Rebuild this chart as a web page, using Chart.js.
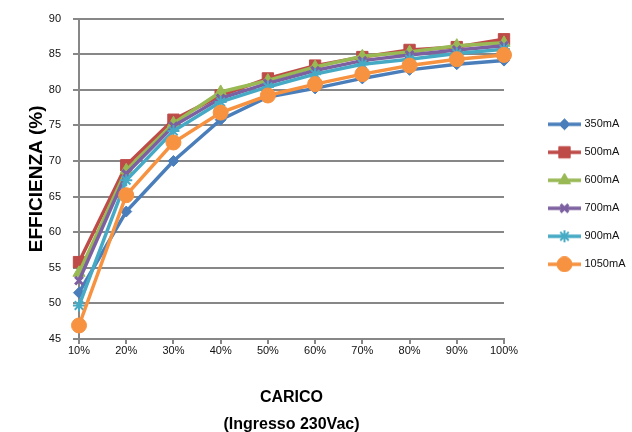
<!DOCTYPE html>
<html>
<head>
<meta charset="utf-8">
<title>Efficienza</title>
<script src="https://cdn.jsdelivr.net/npm/chart.js@4/dist/chart.umd.min.js"></script>
<style>
    html, body { margin: 0; padding: 0; background: #ffffff; }
    #wrap { width: 632px; height: 432px; }
</style>
</head>
<body>
<div id="wrap"><canvas id="effChart" width="632" height="432"></canvas></div>
<script>
// Carico (categorie asse X)
var loads = ['10%', '20%', '30%', '40%', '50%', '60%', '70%', '80%', '90%', '100%'];

// Efficienza (%) per corrente di uscita
var eff350 = [51.5, 62.9, 70.0, 75.8, 79.0, 80.2, 81.6, 82.8, 83.6, 84.1];
var eff500 = [55.8, 69.4, 75.8, 79.2, 81.6, 83.4, 84.6, 85.6, 86.0, 87.1];
var eff600 = [54.3, 68.7, 75.3, 79.7, 81.3, 83.2, 84.7, 85.3, 86.2, 86.6];
var eff700 = [53.2, 68.2, 74.9, 78.8, 80.9, 82.7, 84.1, 84.9, 85.6, 86.2];
var eff900 = [49.7, 67.3, 74.2, 78.3, 80.4, 82.2, 83.6, 84.3, 85.1, 85.7];
var eff1050 = [46.9, 65.2, 72.6, 76.8, 79.2, 80.8, 82.2, 83.4, 84.3, 84.9];

// Asse Y
var yMin = 45;
var yMax = 90;
var yStep = 5;

var seriesNames = ['350mA', '500mA', '600mA', '700mA', '900mA', '1050mA'];
var seriesData = [eff350, eff500, eff600, eff700, eff900, eff1050];

// Stili (colori Excel)
var seriesStyle = [
    { color: '#4a7ebb', point: 'rectRot', radius: 5.5, border: 1 },
    { color: '#be4b48', point: 'rect', radius: 8, border: 1 },
    { color: '#98b954', point: 'triangle', radius: 7, border: 1 },
    { color: '#7d60a0', point: 'crossRot', radius: 5.5, border: 3 },
    { color: '#46aac5', point: 'star', radius: 6, border: 2 },
    { color: '#f69240', point: 'circle', radius: 7.5, border: 1 }
];

var gridColor = '#878787';
var textColor = '#111111';
var fontFamily = "'Liberation Sans', Arial, sans-serif";

// Legend sample: line + marker on a small canvas
function makeLegendIcon(style) {
    var c = document.createElement('canvas');
    c.width = 62;
    c.height = 16;
    var ctx = c.getContext('2d');
    ctx.strokeStyle = style.color;
    ctx.lineWidth = 3.5;
    ctx.beginPath();
    ctx.moveTo(29, 8);
    ctx.lineTo(62, 8);
    ctx.stroke();
    ctx.fillStyle = style.color;
    ctx.lineWidth = style.border;
    Chart.helpers.drawPoint(ctx, {
        pointStyle: style.point,
        radius: style.radius,
        borderWidth: style.border,
        rotation: 0
    }, 45.5, 8);
    return c;
}

var datasets = seriesNames.map(function(name, i) {
    var s = seriesStyle[i];
    return {
        label: name,
        data: seriesData[i],
        borderColor: s.color,
        backgroundColor: s.color,
        borderWidth: 3.5,
        pointStyle: s.point,
        pointRadius: s.radius,
        pointHoverRadius: s.radius,
        pointBorderWidth: s.border,
        pointBackgroundColor: s.color,
        pointBorderColor: s.color,
        tension: 0,
        fill: false,
        clip: false,
        order: seriesNames.length - 1 - i
    };
});

var legendIcons = seriesStyle.map(makeLegendIcon);

// Fix the legend width so the plot ends where the reference does
var legendWidthPlugin = {
    id: 'legendWidth',
    beforeUpdate: function(chart) {
        if (chart.legend && !chart.legend._fitPatched) {
            var fit = chart.legend.fit;
            chart.legend.fit = function() {
                fit.call(this);
                this.width = 128;
            };
            chart.legend._fitPatched = true;
        }
    }
};

var ctx = document.getElementById('effChart').getContext('2d');
var effChart = new Chart(ctx, {
    type: 'line',
    data: {
        labels: loads,
        datasets: datasets
    },
    plugins: [legendWidthPlugin],
    options: {
        responsive: false,
        animation: false,
        devicePixelRatio: 1,
        layout: {
            padding: { top: 14, left: 0, right: 0, bottom: 0 }
        },
        plugins: {
            tooltip: { enabled: false },
            legend: {
                position: 'right',
                align: 'start',
                fullSize: false,
                title: {
                    display: true,
                    text: ' ',
                    font: { size: 11, family: fontFamily },
                    padding: { top: 70, bottom: 0 }
                },
                labels: {
                    usePointStyle: true,
                    pointStyleWidth: 58,
                    padding: 17,
                    color: textColor,
                    font: { size: 11, family: fontFamily },
                    generateLabels: function(chart) {
                        return chart.data.datasets.map(function(ds, i) {
                            return {
                                text: ds.label,
                                pointStyle: legendIcons[i],
                                fillStyle: ds.borderColor,
                                strokeStyle: ds.borderColor,
                                fontColor: textColor,
                                lineWidth: 0,
                                hidden: false,
                                datasetIndex: i
                            };
                        });
                    }
                }
            }
        },
        scales: {
            x: {
                type: 'category',
                offset: false,
                afterFit: function(scale) {
                    scale.height = 93;
                },
                grid: {
                    display: true,
                    drawOnChartArea: false,
                    drawTicks: true,
                    tickLength: 5,
                    color: gridColor,
                    lineWidth: 2
                },
                border: { display: true, color: gridColor, width: 2 },
                ticks: {
                    color: textColor,
                    padding: 0,
                    maxRotation: 0,
                    autoSkip: false,
                    font: { size: 11, family: fontFamily }
                },
                title: {
                    display: true,
                    text: ['CARICO', '(Ingresso 230Vac)'],
                    color: '#000000',
                    padding: { top: 0, bottom: -6 },
                    font: {
                        size: 16,
                        weight: 'bold',
                        lineHeight: '27px',
                        family: fontFamily
                    }
                }
            },
            y: {
                min: yMin,
                max: yMax,
                afterFit: function(scale) {
                    scale.width = 79;
                },
                grid: {
                    color: gridColor,
                    lineWidth: 2,
                    drawTicks: true,
                    tickLength: 6
                },
                border: { display: true, color: gridColor, width: 2 },
                ticks: {
                    stepSize: yStep,
                    color: textColor,
                    padding: 12,
                    font: { size: 11, family: fontFamily }
                },
                title: {
                    display: true,
                    text: 'EFFICIENZA (%)',
                    color: '#000000',
                    padding: { top: 25, bottom: 0 },
                    font: { size: 19, weight: 'bold', family: fontFamily }
                }
            }
        }
    }
});
</script>
</body>
</html>
